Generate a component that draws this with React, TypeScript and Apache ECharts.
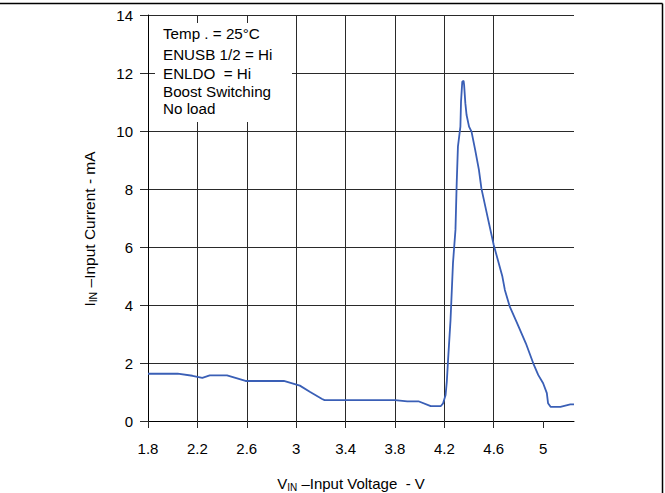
import React, { useEffect, useRef } from "react";
import * as echarts from "echarts";

// Input voltage (V) and input current (mA)
const voltage = [
  1.8, 2.04, 2.16, 2.24, 2.3, 2.44, 2.59, 2.9, 3.03, 3.11, 3.21, 3.23, 3.8, 3.9, 3.99,
  4.09, 4.17, 4.19, 4.21, 4.22, 4.23, 4.25, 4.27, 4.29, 4.3, 4.31, 4.33, 4.335, 4.345,
  4.356, 4.36, 4.37, 4.38, 4.4, 4.42, 4.45, 4.48, 4.5, 4.55, 4.6, 4.67, 4.69, 4.73,
  4.79, 4.86, 4.92, 4.96, 5.0, 5.03, 5.04, 5.06, 5.14, 5.22, 5.25,
];
const current = [
  1.63, 1.63, 1.56, 1.49, 1.57, 1.57, 1.38, 1.38, 1.22, 1.01, 0.76, 0.72, 0.72, 0.68, 0.68,
  0.51, 0.51, 0.61, 0.9, 1.36, 2.1, 3.48, 5.45, 6.59, 8.2, 9.46, 10.15, 11.01, 11.7,
  11.73, 11.59, 10.96, 10.55, 10.15, 9.98, 9.34, 8.66, 8.02, 7.04, 6.07, 4.98, 4.52, 3.94,
  3.37, 2.68, 1.99, 1.59, 1.3, 0.96, 0.61, 0.49, 0.49, 0.57, 0.57,
];

const X_MIN = 1.8;
const X_MAX = 5.25;
const X_STEP = 0.4;
const xTickLabels = [1.8, 2.2, 2.6, 3, 3.4, 3.8, 4.2, 4.6, 5];
const Y_MIN = 0;
const Y_MAX = 14;
const Y_STEP = 2;

const noteLines = [
  "Temp . = 25°C",
  "ENUSB 1/2 = Hi",
  "ENLDO  = Hi",
  "Boost Switching",
  "No load",
];
const xTitle = { main: "V", sub: "IN", rest: " \u2013Input Voltage  - V" };
const yTitle = { main: "I", sub: "IN", rest: " \u2013Input Current - mA" };

const FONT = "'Liberation Sans', Arial, sans-serif";
const BLUE = "#3a5fb6";
const GRID = "#2a2a2a";

export default function App() {
  const ref = useRef<HTMLDivElement>(null);

  useEffect(() => {
    if (!ref.current) return;
    const chart = echarts.init(ref.current, null, { renderer: "svg" });
    const data = voltage.map((v, i) => [v - X_MIN, current[i]]);
    const xCustom = xTickLabels.map((t) => +(t - X_MIN).toFixed(3));
    const noteY = [33.5, 54, 73.5, 91, 108.5];

    const richX = {
      m: { fontSize: 15, fontFamily: FONT, fill: "#000", lineHeight: 18, verticalAlign: "middle" },
      s: { fontSize: 10, fontFamily: FONT, fill: "#000", lineHeight: 10, verticalAlign: "bottom" },
    };
    const richY = {
      m: { fontSize: 15.5, fontFamily: FONT, fill: "#000", lineHeight: 18, verticalAlign: "middle" },
      s: { fontSize: 10.5, fontFamily: FONT, fill: "#000", lineHeight: 10, verticalAlign: "bottom" },
    };

    const option: any = {
      animation: false,
      backgroundColor: "#fff",
      grid: { left: 148, top: 15, right: 91, bottom: 72, containLabel: false },
      xAxis: {
        type: "value",
        min: 0,
        max: +(X_MAX - X_MIN).toFixed(3),
        interval: X_STEP,
        axisLine: { show: true, onZero: false, lineStyle: { color: "#000", width: 1 } },
        axisTick: {
          show: true,
          inside: false,
          length: 7,
          customValues: xCustom,
          lineStyle: { color: GRID, width: 1 },
        },
        axisLabel: {
          show: true,
          margin: 20,
          customValues: xCustom,
          color: "#000",
          fontSize: 15,
          fontFamily: FONT,
          formatter: (v: number) => String(+(v + X_MIN).toFixed(1)),
        },
        splitLine: {
          show: true,
          showMinLine: true,
          showMaxLine: false,
          lineStyle: { color: GRID, width: 1, type: "solid" },
        },
      },
      yAxis: {
        type: "value",
        min: Y_MIN,
        max: Y_MAX,
        interval: Y_STEP,
        axisLine: { show: true, onZero: false, lineStyle: { color: "#000", width: 1 } },
        axisTick: { show: true, inside: false, length: 8, lineStyle: { color: GRID, width: 1 } },
        axisLabel: {
          show: true,
          margin: 15,
          color: "#000",
          fontSize: 15,
          fontFamily: FONT,
        },
        splitLine: {
          show: true,
          showMinLine: false,
          showMaxLine: true,
          lineStyle: { color: GRID, width: 1, type: "solid" },
        },
      },
      series: [
        {
          type: "line",
          data,
          showSymbol: false,
          symbol: "none",
          smooth: false,
          z: 5,
          lineStyle: { color: BLUE, width: 1.8 },
        },
      ],
      graphic: [
        // page frame (top and right edges)
        {
          type: "line",
          z: 100,
          shape: { x1: 0, y1: 3.5, x2: 662.5, y2: 3.5 },
          style: { stroke: "#000", lineWidth: 1.5 },
        },
        {
          type: "line",
          z: 100,
          shape: { x1: 662.5, y1: 3.5, x2: 662.5, y2: 493 },
          style: { stroke: "#000", lineWidth: 1.5 },
        },
        // white box behind the condition notes
        {
          type: "rect",
          z: 100,
          shape: { x: 155, y: 23, width: 137, height: 99 },
          style: { fill: "#fff", stroke: null },
        },
        ...noteLines.map((t, i) => ({
          type: "text",
          z: 101,
          x: 163,
          y: noteY[i],
          style: {
            text: t,
            fill: "#000",
            font: `15.2px ${FONT}`,
            align: "left",
            verticalAlign: "middle",
          },
        })),
        {
          type: "text",
          z: 101,
          x: 351,
          y: 483,
          style: {
            text: `{m|${xTitle.main}}{s|${xTitle.sub}}{m|${xTitle.rest}}`,
            rich: richX,
            align: "center",
            verticalAlign: "middle",
          },
        },
        {
          type: "text",
          z: 101,
          x: 89,
          y: 229,
          rotation: Math.PI / 2,
          style: {
            text: `{m|${yTitle.main}}{s|${yTitle.sub}}{m|${yTitle.rest}}`,
            rich: richY,
            align: "center",
            verticalAlign: "middle",
          },
        },
      ],
    };

    chart.setOption(option);
    return () => chart.dispose();
  }, []);

  return (
    <div
      ref={ref}
      style={{ position: "fixed", left: 0, top: 0, width: 665, height: 493, background: "#fff" }}
    />
  );
}
